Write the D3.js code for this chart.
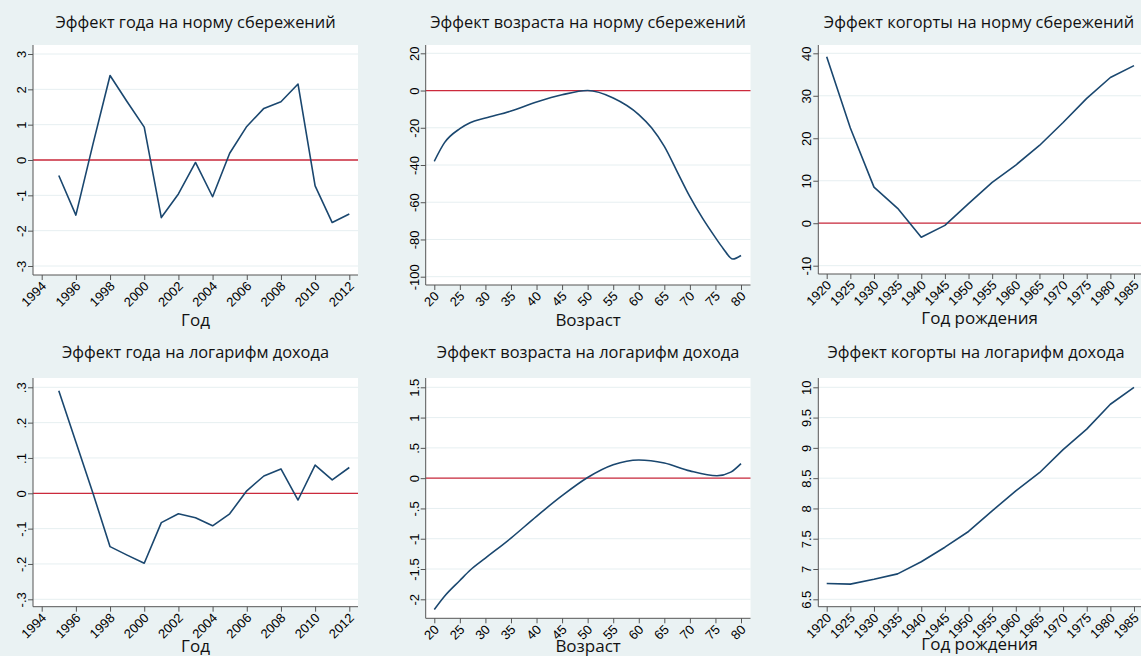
<!DOCTYPE html>
<html>
<head>
<meta charset="UTF-8">
<title>Эффекты года, возраста и когорты</title>
<script src="https://d3js.org/d3.v7.min.js"></script>
<style>
  body { margin: 0; background: #eaf2f3; }
  svg { display: block; }
  .title { font-family: "Open Sans", sans-serif; font-size: 16.4px; fill: #111; }
  .axtitle { font-family: "Open Sans", sans-serif; font-size: 17px; fill: #111; }
  .tick text { font-family: "Liberation Sans", Arial, sans-serif; font-size: 13px; fill: #000; }
</style>
</head>
<body>
<svg id="chart" width="1141" height="656"></svg>
<script>
  // ---- data ----
  var years = [1995, 1996, 1997, 1998, 1999, 2000, 2001, 2002, 2003, 2004, 2005, 2006, 2007, 2008, 2009, 2010, 2011, 2012];
  var yearSaving = [-0.44, -1.56, 0.45, 2.39, 1.65, 0.93, -1.63, -0.96, -0.07, -1.04, 0.19, 0.95, 1.46, 1.65, 2.15, -0.73, -1.77, -1.53];
  var yearIncome = [0.29, 0.145, 0.0, -0.151, -0.175, -0.198, -0.083, -0.058, -0.069, -0.092, -0.058, 0.007, 0.049, 0.069, -0.019, 0.080, 0.038, 0.073];

  var agesSav = [20, 22, 25, 27, 30, 35, 40, 45, 50, 55, 60, 62.5, 65, 67.5, 70, 72.5, 75, 76.5, 78.4, 80];
  var ageSaving = [-38, -28, -20.5, -17.3, -14.8, -11, -6.2, -2.3, 0, -4, -12.9, -20, -30, -43.5, -57, -68.7, -79, -84.8, -90.5, -88.6];
  var agesInc = [20, 22, 25, 27, 30, 35, 40, 45, 50, 55, 60, 65, 70, 75.3, 78, 80];
  var ageIncome = [-2.17, -1.95, -1.69, -1.52, -1.32, -0.99, -0.63, -0.29, 0.01, 0.22, 0.30, 0.25, 0.12, 0.04, 0.10, 0.24];

  var cohorts = [1920, 1925, 1930, 1935, 1940, 1945, 1950, 1955, 1960, 1965, 1970, 1975, 1980, 1985];
  var cohortSaving = [39.2, 22.4, 8.5, 3.5, -3.3, -0.5, 4.6, 9.6, 13.7, 18.3, 23.7, 29.4, 34.3, 37.1];
  var cohortIncome = [6.76, 6.75, 6.83, 6.92, 7.12, 7.36, 7.62, 7.96, 8.29, 8.59, 8.97, 9.31, 9.72, 10.0];

  var yearTicks = d3.range(1994, 2013, 2);
  var ageTicks = d3.range(20, 81, 5);
  var cohortTicks = d3.range(1920, 1986, 5);

  // Stata style: ".5", "-.3"
  var tickFmtDot = function (v) {
    if (v === 0) return '0';
    var s = String(+v.toFixed(2));
    return s.replace(/^(-?)0\./, '$1.');
  };

  // ---- panel layout ----
  var panels = [
    { title: 'Эффект года на норму сбережений', xlab: 'Год', xs: years, ys: yearSaving, smooth: false,
      xTicks: yearTicks, yTicks: [-3, -2, -1, 0, 1, 2, 3],
      left: 33, right: 358, top: 45, bottom: 275, xr: [41.7, 349.3], yr: [266, 54], titleY: 28, labY: 326 },
    { title: 'Эффект возраста на норму сбережений', xlab: 'Возраст', xs: agesSav, ys: ageSaving, smooth: true,
      xTicks: ageTicks, yTicks: [-100, -80, -60, -40, -20, 0, 20],
      left: 425.7, right: 750.5, top: 45, bottom: 285, xr: [434.3, 741], yr: [276.7, 53.3], titleY: 28, labY: 326 },
    { title: 'Эффект когорты на норму сбережений', xlab: 'Год рождения', xs: cohorts, ys: cohortSaving, smooth: false,
      xTicks: cohortTicks, yTicks: [-10, 0, 10, 20, 30, 40],
      left: 818.3, right: 1141, top: 45, bottom: 274, xr: [826.7, 1134], yr: [265.7, 53.3], titleY: 28, labY: 324, titleX: 979 },
    { title: 'Эффект года на логарифм дохода', xlab: 'Год', xs: years, ys: yearIncome, smooth: false,
      xTicks: yearTicks, yTicks: [-0.3, -0.2, -0.1, 0, 0.1, 0.2, 0.3],
      left: 33, right: 358, top: 378, bottom: 606.7, xr: [41.7, 349.3], yr: [599.3, 387.3], titleY: 358, labY: 652 },
    { title: 'Эффект возраста на логарифм дохода', xlab: 'Возраст', xs: agesInc, ys: ageIncome, smooth: true,
      xTicks: ageTicks, yTicks: [-2, -1.5, -1, -0.5, 0, 0.5, 1, 1.5],
      left: 425.7, right: 750.5, top: 378, bottom: 618.3, xr: [434.3, 741], yr: [599.3, 387.3], titleY: 358, labY: 652 },
    { title: 'Эффект когорты на логарифм дохода', xlab: 'Год рождения', xs: cohorts, ys: cohortIncome, smooth: false, noZero: true,
      xTicks: cohortTicks, yTicks: [6.5, 7, 7.5, 8, 8.5, 9, 9.5, 10],
      left: 818.3, right: 1141, top: 378, bottom: 606.7, xr: [826.7, 1134], yr: [599.3, 387.3], titleY: 358, labY: 650, titleX: 976 }
  ];

  var svg = d3.select('#chart');

  svg.append('rect')
    .attr('width', 1141).attr('height', 656)
    .attr('fill', '#eaf2f3');

  panels.forEach(function (p) {
    var x = d3.scaleLinear().domain([p.xTicks[0], p.xTicks[p.xTicks.length - 1]]).range(p.xr);
    var y = d3.scaleLinear().domain([p.yTicks[0], p.yTicks[p.yTicks.length - 1]]).range(p.yr);
    var g = svg.append('g');
    var cx = p.titleX || (p.left + p.right) / 2;

    // plot region
    g.append('rect')
      .attr('x', p.left).attr('y', p.top)
      .attr('width', p.right - p.left).attr('height', p.bottom - p.top)
      .attr('fill', '#ffffff');

    // gridlines
    g.selectAll('.grid').data(p.yTicks).enter().append('line')
      .attr('x1', p.left).attr('x2', p.right)
      .attr('y1', function (d) { return y(d); })
      .attr('y2', function (d) { return y(d); })
      .attr('stroke', '#e6eff1').attr('stroke-width', 1);

    // zero reference line
    if (!p.noZero) {
      g.append('line')
        .attr('x1', p.left).attr('x2', p.right)
        .attr('y1', y(0)).attr('y2', y(0))
        .attr('stroke', '#cc2a3c').attr('stroke-width', 1.3);
    }

    // series
    var line = d3.line()
      .x(function (d, i) { return x(p.xs[i]); })
      .y(function (d) { return y(d); })
      .curve(p.smooth ? d3.curveMonotoneX : d3.curveLinear);

    g.append('path')
      .datum(p.ys)
      .attr('d', line)
      .attr('fill', 'none')
      .attr('stroke', '#1a476f')
      .attr('stroke-width', 1.6)
      .attr('stroke-linejoin', 'round');

    // y axis
    var yAxis = g.append('g')
      .attr('transform', 'translate(' + p.left + ',0)')
      .call(d3.axisLeft(y).tickValues(p.yTicks).tickSize(5).tickPadding(6).tickFormat(tickFmtDot).tickSizeOuter(0));
    yAxis.select('.domain').attr('d', 'M0,' + p.top + 'V' + p.bottom);
    yAxis.selectAll('.tick text')
      .attr('x', null).attr('dy', null)
      .attr('text-anchor', 'middle')
      .attr('transform', 'translate(-7,0) rotate(-90)');

    // x axis
    var xAxis = g.append('g')
      .attr('transform', 'translate(0,' + p.bottom + ')')
      .call(d3.axisBottom(x).tickValues(p.xTicks).tickSize(5).tickFormat(d3.format('d')).tickSizeOuter(0));
    xAxis.select('.domain').attr('d', 'M' + p.left + ',0H' + p.right);
    xAxis.selectAll('.tick text')
      .attr('y', null).attr('dy', null)
      .attr('text-anchor', 'end')
      .attr('transform', 'translate(5,12) rotate(-45)');

    [yAxis, xAxis].forEach(function (a) {
      a.select('.domain').attr('stroke', '#555');
      a.selectAll('.tick line').attr('stroke', '#555');
    });

    // titles
    g.append('text')
      .attr('class', 'title')
      .attr('x', cx).attr('y', p.titleY)
      .attr('text-anchor', 'middle')
      .text(p.title);

    g.append('text')
      .attr('class', 'axtitle')
      .attr('x', (p.left + p.right) / 2).attr('y', p.labY)
      .attr('text-anchor', 'middle')
      .text(p.xlab);
  });
</script>
</body>
</html>
